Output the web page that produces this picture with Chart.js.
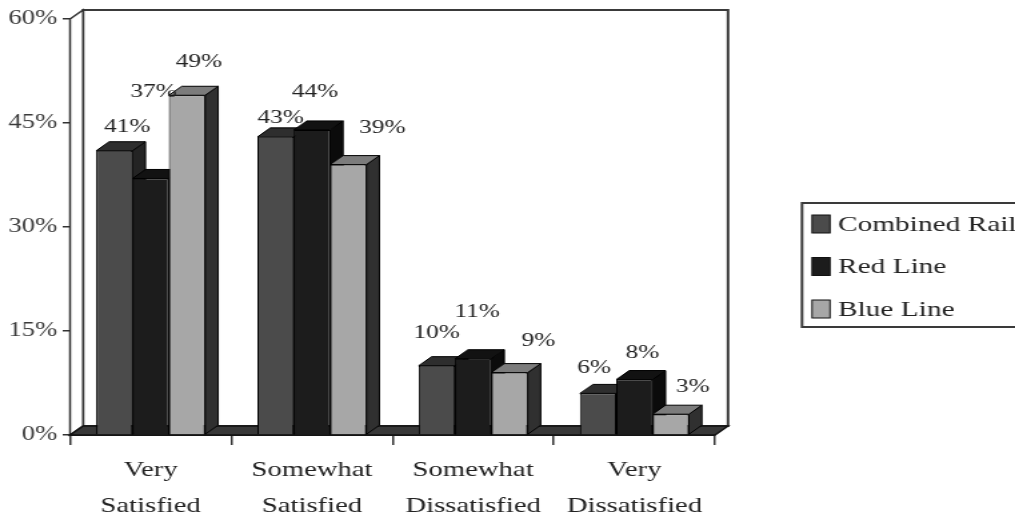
<!DOCTYPE html>
<html>
<head>
<meta charset="utf-8">
<script src="https://cdn.jsdelivr.net/npm/chart.js@4.4.1/dist/chart.umd.min.js"></script>
<style>
  html, body { margin: 0; padding: 0; background: #fff; overflow: hidden; }
  /* the chart is drawn narrow and widened horizontally, giving the broad serif lettering */
  #wrap { position: absolute; left: 0; top: 0; width: 761px; height: 518px;
          transform: scaleX(1.33377); transform-origin: 0 0; }
</style>
</head>
<body>
<div id="wrap"><canvas id="c"></canvas></div>
<script>
// ---- data ----
const categories = [['Very', 'Satisfied'], ['Somewhat', 'Satisfied'], ['Somewhat', 'Dissatisfied'], ['Very', 'Dissatisfied']];
const seriesNames = ['Combined Rail', 'Red Line', 'Blue Line'];
const combinedRail = [41, 43, 10, 6];
const redLine = [37, 44, 11, 8];
const blueLine = [49, 39, 9, 3];
const yTickValues = [0, 15, 30, 45, 60];

// ---- look ----
const STRETCH = 1015 / 761;
const DEPTH_X = 13 / STRETCH;   // horizontal depth of the 3-D boxes
const DEPTH_Y = -9;             // vertical depth of the 3-D boxes
const SERIF = '"Liberation Serif", "Times New Roman", serif';
const INK = '#222';

const faces = [
  { front: '#4b4b4b', top: '#2e2e2e', side: '#242424' },
  { front: '#1c1c1c', top: '#121212', side: '#0b0b0b' },
  { front: '#a7a7a7', top: '#7c7c7c', side: '#303030' }
];

// value-label placement relative to the front face (x in screen px, y in px)
const labelOffsets = [
  [[13, -24], [5, -19], [0, -33], [-4, -25]],
  [[3, -86], [3, -38], [4, -47], [8, -27]],
  [[12, -33], [34, -37], [29, -32], [22, -27]]
];

function poly(ctx, pts, fill, stroke, lw) {
  ctx.beginPath();
  ctx.moveTo(pts[0][0], pts[0][1]);
  for (let i = 1; i < pts.length; i++) ctx.lineTo(pts[i][0], pts[i][1]);
  ctx.closePath();
  if (fill) { ctx.fillStyle = fill; ctx.fill(); }
  if (stroke) { ctx.strokeStyle = stroke; ctx.lineWidth = lw || 1; ctx.stroke(); }
}

const boxes3d = {
  id: 'boxes3d',
  beforeDatasetsDraw(chart) {
    const { ctx, chartArea: a } = chart;
    ctx.save();
    // back wall
    ctx.lineWidth = 2;
    ctx.strokeStyle = '#3a3a3a';
    ctx.strokeRect(a.left + DEPTH_X, a.top + DEPTH_Y, a.right - a.left, a.bottom - a.top);
    // left wall
    poly(ctx, [[a.left, a.top], [a.left + DEPTH_X, a.top + DEPTH_Y],
               [a.left + DEPTH_X, a.bottom + DEPTH_Y], [a.left, a.bottom]], '#fff', '#333', 1.5);
    // floor
    poly(ctx, [[a.left, a.bottom], [a.left + DEPTH_X, a.bottom + DEPTH_Y],
               [a.right + DEPTH_X, a.bottom + DEPTH_Y], [a.right, a.bottom]], '#383838', '#111', 1.5);
    // tops and right-hand sides of every box, drawn left to right
    const n = chart.data.labels.length;
    for (let i = 0; i < n; i++) {
      for (let d = 0; d < chart.data.datasets.length; d++) {
        const el = chart.getDatasetMeta(d).data[i];
        const { x, y, width, base } = el.getProps(['x', 'y', 'width', 'base'], true);
        const l = x - width / 2, r = x + width / 2;
        poly(ctx, [[r, y], [r + DEPTH_X, y + DEPTH_Y], [r + DEPTH_X, base + DEPTH_Y], [r, base]],
             faces[d].side, '#000', 1);
        poly(ctx, [[l, y], [l + DEPTH_X, y + DEPTH_Y], [r + DEPTH_X, y + DEPTH_Y], [r, y]],
             faces[d].top, '#000', 1);
      }
    }
    ctx.restore();
  },
  afterDatasetsDraw(chart) {
    const { ctx } = chart;
    ctx.save();
    ctx.font = '19px ' + SERIF;
    ctx.fillStyle = INK;
    ctx.textAlign = 'center';
    ctx.textBaseline = 'middle';
    chart.data.datasets.forEach((ds, d) => {
      chart.getDatasetMeta(d).data.forEach((el, i) => {
        const { x, y } = el.getProps(['x', 'y'], true);
        const off = labelOffsets[d][i];
        ctx.fillText(ds.data[i] + '%', x + off[0] / STRETCH, y + off[1]);
      });
    });
    ctx.restore();
  },
  afterDraw(chart) {
    // legend box
    const { ctx } = chart;
    ctx.save();
    const lx = 802 / STRETCH, ly = 203, lh = 124;
    ctx.lineWidth = 2;
    ctx.strokeStyle = '#3a3a3a';
    ctx.strokeRect(lx, ly, chart.width - lx + 10, lh);
    ctx.font = '22px ' + SERIF;
    ctx.textAlign = 'left';
    ctx.textBaseline = 'middle';
    chart.data.datasets.forEach((ds, d) => {
      const cy = ly + 21 + d * 42.5;
      const sx = 812 / STRETCH, sw = 18 / STRETCH;
      ctx.fillStyle = faces[d].front;
      ctx.fillRect(sx, cy - 9, sw, 18);
      ctx.strokeStyle = '#111';
      ctx.lineWidth = 1;
      ctx.strokeRect(sx, cy - 9, sw, 18);
      ctx.fillStyle = INK;
      ctx.fillText(ds.label, 838 / STRETCH, cy + 1);
    });
    ctx.restore();
  }
};

const seriesValues = [combinedRail, redLine, blueLine];

new Chart(document.getElementById('c'), {
  type: 'bar',
  data: {
    labels: categories,
    datasets: seriesNames.map((name, d) => ({
      label: name,
      data: seriesValues[d],
      backgroundColor: faces[d].front,
      borderColor: '#000',
      borderWidth: 1,
      categoryPercentage: 0.676,
      barPercentage: 1
    }))
  },
  options: {
    responsive: true,
    maintainAspectRatio: false,
    animation: false,
    events: [],
    layout: { padding: { top: 19, right: 761 - 536.1, bottom: 0, left: 0 } },
    plugins: { legend: { display: false }, tooltip: { enabled: false } },
    scales: {
      x: {
        grid: { offset: true, drawOnChartArea: false, drawTicks: true, tickLength: 10, color: '#333', lineWidth: 1.5 },
        border: { display: true, color: '#222', width: 2 },
        ticks: {
          font: { family: SERIF, size: 21.5, lineHeight: 36 / 21.5 },
          color: INK, padding: 7, maxRotation: 0, autoSkip: false
        },
        afterFit(s) { s.height = 83; }
      },
      y: {
        min: 0, max: 60,
        afterBuildTicks(s) { s.ticks = yTickValues.map(v => ({ value: v })); },
        ticks: { callback: v => v + '%', font: { family: SERIF, size: 20 }, color: '#3a3a3a', padding: 4 },
        grid: { drawOnChartArea: false, drawTicks: true, tickLength: 5.5, color: '#333', lineWidth: 1.5 },
        border: { display: true, color: '#222', width: 2 },
        afterFit(s) { s.width = 52.5; }
      }
    }
  },
  plugins: [boxes3d]
});
</script>
</body>
</html>
